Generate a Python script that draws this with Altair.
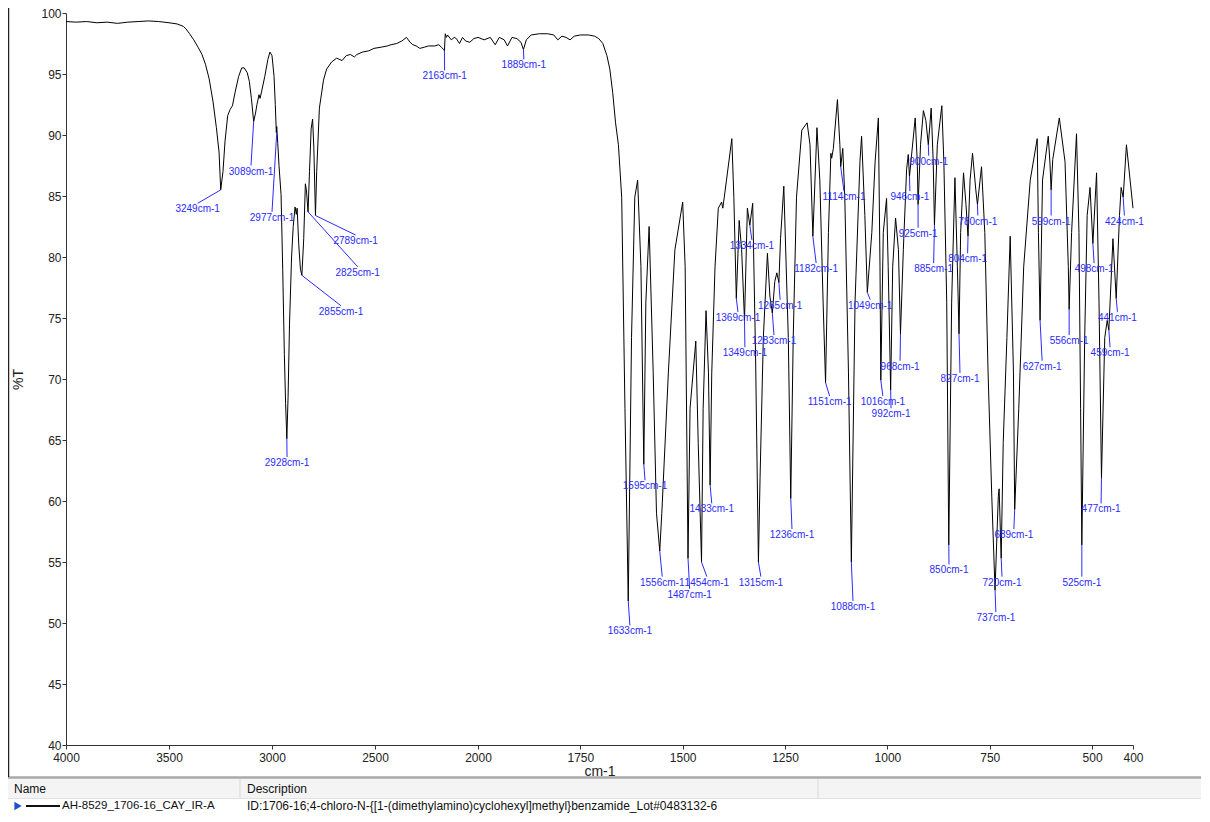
import altair as alt
import pandas as pd

# ---------------- spectrum (wavenumber cm-1, %T) ----------------
wavenumber = [
    4000, 3950, 3900, 3850, 3800, 3750, 3700, 3650, 3600, 3550, 3500, 3460, 3430, 3418, 3400,
    3380, 3359, 3340, 3323, 3305, 3286, 3270, 3257, 3249, 3238, 3228, 3215, 3203, 3192, 3178,
    3162, 3147, 3135, 3120, 3110, 3100, 3089, 3080, 3073, 3063, 3058, 3050, 3035, 3020, 3010,
    3000, 2990, 2984, 2979, 2977, 2972, 2966, 2956, 2948, 2940, 2934, 2928, 2922, 2915, 2905,
    2897, 2888, 2882, 2878, 2870, 2862, 2855, 2846, 2838, 2833, 2825, 2818, 2810, 2803, 2797,
    2789, 2783, 2770, 2750, 2735, 2710, 2686, 2660, 2640, 2620, 2600, 2588, 2560, 2530, 2505,
    2470, 2440, 2422, 2395, 2370, 2347, 2330, 2316, 2300, 2282, 2260, 2240, 2210, 2190, 2178,
    2166, 2163, 2159, 2153, 2148, 2130, 2115, 2105, 2090, 2075, 2060, 2040, 2020, 2000, 1985,
    1970, 1958, 1948, 1936, 1928, 1917, 1905, 1895, 1889, 1882, 1870, 1850, 1830, 1815, 1805,
    1795, 1785, 1775, 1765, 1750, 1730, 1715, 1705, 1695, 1685, 1678, 1671, 1664, 1657, 1649,
    1641, 1633, 1625, 1617, 1610, 1602, 1595, 1590, 1582, 1572, 1564, 1556, 1551, 1535, 1519,
    1500, 1494, 1487, 1482, 1468, 1462, 1454, 1450, 1443, 1437, 1433, 1429, 1421, 1413, 1405,
    1402, 1393, 1380, 1375, 1369, 1362, 1356, 1349, 1342, 1336, 1329, 1322, 1315, 1311, 1303,
    1293, 1287, 1281, 1275, 1270, 1265, 1261, 1253, 1242, 1236, 1230, 1222, 1209, 1196, 1189,
    1182, 1172, 1165, 1157, 1151, 1144, 1138, 1136, 1132, 1122, 1116, 1114, 1109, 1104, 1095,
    1088, 1079, 1067, 1063, 1055, 1049, 1038, 1030, 1022, 1018, 1016, 1010, 1002, 998, 992,
    987, 980, 973, 968, 961, 953, 949, 946, 932, 927, 925, 919, 912, 906, 900,
    893, 888, 885, 878, 867, 862, 855, 850, 843, 835, 829, 825, 821, 814, 808,
    803, 798, 792, 784, 780, 770, 762, 754, 745, 737, 729, 727, 722, 717, 708,
    700, 692, 689, 679, 667, 651, 634, 631, 627, 621, 607, 603, 600, 596, 580,
    566, 558, 556, 550, 538, 532, 528, 525, 518, 512, 505, 498, 489, 483, 477,
    469, 463, 459, 449, 441, 433, 429, 424, 416, 400,
]
transmittance = [
    99.3, 99.25, 99.3, 99.2, 99.25, 99.15, 99.25, 99.3, 99.35, 99.3, 99.2, 99.1, 98.9, 98.7, 98.3,
    97.8, 97.2, 96.6, 95.8, 94.6, 92.7, 90.6, 88.6, 85.5, 87.0, 89.5, 91.6, 92.1, 92.4, 93.6,
    94.8, 95.5, 95.5, 95.1, 94.4, 93.0, 91.1, 91.8, 92.5, 93.3, 93.0, 93.6, 94.8, 96.2, 96.8,
    96.5, 94.8, 92.5, 90.2, 90.7, 89.3, 87.5, 85.1, 79.0, 72.0, 68.0, 65.1, 68.5, 74.5, 80.0,
    82.5, 84.1, 83.5, 84.0, 81.0, 79.0, 78.5, 81.5, 86.0, 85.5, 83.7, 87.0, 90.5, 91.3, 89.0,
    83.4, 87.0, 92.2, 94.5, 95.4, 96.0, 96.3, 96.1, 96.5, 96.6, 96.4, 96.6, 96.8, 96.9, 97.1,
    97.2, 97.3, 97.4, 97.5, 97.7, 98.0, 97.6, 97.4, 97.3, 97.1, 97.2, 97.3, 97.3, 97.4, 97.2,
    97.0, 96.9, 98.3, 98.0, 98.2, 97.8, 98.0, 97.9, 97.5, 98.0, 97.7, 97.6, 97.9, 98.0, 97.8,
    98.0, 97.4, 98.0, 97.8, 97.3, 98.0, 97.9, 97.6, 97.0, 97.8, 98.2, 98.3, 98.3, 98.2, 97.8,
    98.1, 98.0, 97.8, 98.1, 98.2, 98.2, 98.1, 97.9, 97.5, 96.5, 95.4, 93.5, 91.0, 89.2, 84.9,
    67.6, 51.8, 73.4, 84.9, 86.3, 79.2, 63.0, 76.3, 82.5, 70.5, 59.0, 55.9, 59.0, 70.5, 80.6,
    84.5, 79.2, 55.3, 67.6, 73.1, 64.7, 55.0, 67.6, 75.6, 70.5, 61.3, 70.5, 79.2, 84.0, 84.5,
    84.0, 86.3, 89.7, 84.9, 76.6, 83.0, 80.6, 74.8, 84.0, 82.6, 84.4, 72.0, 55.0, 61.9, 73.4,
    80.3, 76.8, 75.4, 78.0, 78.7, 77.9, 81.5, 85.8, 73.4, 60.2, 73.4, 84.9, 90.4, 91.0, 89.2,
    81.7, 90.6, 86.3, 76.3, 69.7, 82.0, 88.5, 88.1, 88.9, 92.9, 89.2, 87.4, 88.9, 84.9, 70.5,
    55.0, 76.3, 87.8, 89.9, 83.4, 77.1, 82.0, 87.8, 91.4, 79.2, 69.9, 82.0, 84.8, 79.2, 69.1,
    79.2, 83.2, 80.6, 73.7, 80.6, 87.2, 88.4, 86.6, 91.4, 87.8, 84.3, 89.2, 92.0, 91.2, 89.2,
    92.2, 87.8, 82.6, 89.2, 92.4, 87.8, 76.3, 56.4, 76.3, 86.5, 79.2, 73.7, 82.0, 86.9, 84.3,
    81.7, 86.3, 88.5, 85.5, 84.3, 87.4, 82.0, 70.5, 60.4, 52.7, 60.4, 61.0, 55.3, 64.8, 73.4,
    81.7, 70.5, 59.3, 67.6, 79.2, 86.3, 89.7, 82.0, 74.8, 86.3, 89.9, 87.8, 85.5, 88.0, 91.4,
    87.8, 79.2, 75.7, 82.0, 90.1, 82.0, 67.6, 56.4, 73.4, 83.4, 85.7, 81.1, 86.9, 76.3, 61.9,
    73.4, 74.8, 74.0, 81.5, 76.6, 83.4, 85.7, 84.9, 89.2, 84.0,
]

# ---------------- peak annotations ----------------
peak_text = [
    "3249cm-1", "3089cm-1", "2977cm-1", "2928cm-1", "2855cm-1", "2825cm-1", "2789cm-1",
    "2163cm-1", "1889cm-1", "1633cm-1", "1595cm-1", "1556cm-1", "1487cm-1", "1454cm-1",
    "1433cm-1", "1369cm-1", "1349cm-1", "1334cm-1", "1315cm-1", "1265cm-1", "1283cm-1",
    "1236cm-1", "1182cm-1", "1151cm-1", "1114cm-1", "1088cm-1", "1049cm-1", "1016cm-1",
    "992cm-1", "968cm-1", "946cm-1", "925cm-1", "900cm-1", "885cm-1", "850cm-1", "827cm-1",
    "804cm-1", "780cm-1", "737cm-1", "720cm-1", "689cm-1", "627cm-1", "599cm-1", "556cm-1",
    "525cm-1", "498cm-1", "477cm-1", "459cm-1", "441cm-1", "424cm-1",
]
peak_wn = [
    3249, 3089, 2977, 2928, 2855, 2825, 2789, 2163, 1889, 1633, 1595, 1556, 1487, 1454,
    1433, 1369, 1349, 1336, 1315, 1265, 1281, 1236, 1182, 1151, 1114, 1088, 1049, 1016,
    992, 968, 946, 925, 900, 885, 850, 825, 803, 780, 737, 722, 689, 627, 600, 556,
    525, 498, 477, 459, 441, 424,
]
peak_T = [
    85.5, 91.1, 90.2, 65.1, 78.5, 83.7, 83.4, 96.9, 97.0, 51.8, 63.0, 55.9, 55.3, 55.0,
    61.3, 76.6, 74.8, 82.6, 55.0, 77.9, 75.4, 60.2, 81.7, 69.7, 87.4, 55.0, 77.1, 69.9,
    69.1, 73.7, 86.6, 84.3, 89.2, 82.6, 56.4, 73.7, 81.7, 84.3, 52.7, 55.3, 59.3, 74.8, 85.5, 75.7,
    56.4, 81.1, 61.9, 74.0, 76.6, 84.9,
]
label_wn = [
    3361, 3102, 3000, 2927, 2665, 2584, 2594, 2162, 1888, 1629, 1592, 1550, 1483, 1441,
    1429, 1365, 1348, 1331, 1309, 1262, 1277, 1233, 1174, 1141, 1106, 1084, 1042, 1011,
    991, 969, 945, 925, 899, 887, 849.5, 822.6, 804, 779, 735, 720, 691, 622, 600, 556,
    525, 495, 478, 456, 438, 421,
]
label_T = [
    84.4, 87.5, 83.7, 63.6, 76.0, 79.2, 81.8, 95.3, 96.2, 49.8, 61.7, 53.8, 52.8, 53.8,
    59.8, 75.5, 72.6, 81.4, 53.8, 76.5, 73.6, 57.7, 79.5, 68.6, 85.4, 51.8, 76.5, 68.6,
    67.6, 71.5, 85.4, 82.4, 88.3, 79.5, 54.8, 70.5, 80.3, 83.4, 50.9, 53.8, 57.7, 71.5, 83.4, 73.6,
    53.8, 79.5, 59.8, 72.6, 75.5, 83.4,
]

x_ticks = [4000, 3500, 3000, 2500, 2000, 1750, 1500, 1250, 1000, 750, 500, 400]
y_ticks = [40, 45, 50, 55, 60, 65, 70, 75, 80, 85, 90, 95, 100]

spec = pd.DataFrame({"wn": wavenumber, "T": transmittance})
peaks = pd.DataFrame({"text": peak_text, "wn": peak_wn, "T": peak_T,
                      "lwn": label_wn, "lT": label_T})

W, H = 1067, 732
FONT = "Liberation Sans"
BLUE = "#2a2aff"

xscale = alt.Scale(domain=[4000, 2000, 400], range=[0, 412, W], nice=False, zero=False)
yscale = alt.Scale(domain=[40, 100], nice=False, zero=False)

xaxis = alt.Axis(values=x_ticks, format="d", title="cm-1", grid=False, tickSize=4,
                 labelPadding=3, labelFontSize=12, labelFont=FONT, labelColor="#222",
                 titleFont=FONT, titleFontSize=14, titleFontWeight="normal",
                 titleColor="#222", titleY=30, titleBaseline="alphabetic",
                 domainColor="#333", tickColor="#333", labelFlush=False, labelOverlap=False)
yaxis = alt.Axis(values=y_ticks, format="d", title="%T", grid=False, tickSize=4,
                 labelPadding=1, labelFontSize=12, labelFont=FONT, labelColor="#222",
                 titleFont=FONT, titleFontSize=14, titleFontWeight="normal",
                 titleColor="#222", titleX=-48, titleY=H / 2, titleBaseline="middle",
                 domainColor="#333", tickColor="#333", labelFlush=False, labelOverlap=False)

line = alt.Chart(spec).mark_line(color="black", strokeWidth=1, interpolate="linear").encode(
    x=alt.X("wn:Q", scale=xscale, axis=xaxis),
    y=alt.Y("T:Q", scale=yscale, axis=yaxis),
    order="wn:Q",
)

leaders = alt.Chart(peaks).mark_rule(color=BLUE, strokeWidth=1).encode(
    x=alt.X("wn:Q", scale=xscale), y=alt.Y("T:Q", scale=yscale),
    x2="lwn:Q", y2="lT:Q",
)

labels = alt.Chart(peaks).mark_text(color=BLUE, font=FONT, fontSize=10,
                                    baseline="top", align="center", dy=1).encode(
    x=alt.X("lwn:Q", scale=xscale), y=alt.Y("lT:Q", scale=yscale), text="text:N",
)

# ---------------- bottom legend table (panel decoration) ----------------
one = pd.DataFrame({"k": [0]})
TFONT = "Liberation Sans"

def deco_rule(x1, x2, y1, y2, color, width):
    return alt.Chart(one).mark_rule(color=color, strokeWidth=width).encode(
        x=alt.value(x1), x2=alt.value(x2), y=alt.value(y1), y2=alt.value(y2))

def deco_text(txt, x, y, size=12, color="#111"):
    return alt.Chart(one).mark_text(text=txt, font=TFONT, fontSize=size, color=color,
                                    align="left", baseline="middle").encode(
        x=alt.value(x), y=alt.value(y))

header_bg = alt.Chart(one).mark_rect(color="#f4f4f4").encode(
    x=alt.value(-58), x2=alt.value(1135), y=alt.value(766), y2=alt.value(785))

table = [
    header_bg,
    deco_rule(-58, 1135, 764.5, 764.5, "#a8a8a8", 2.5),
    deco_rule(-58, 1135, 785.5, 785.5, "#e2e2e2", 1),
    deco_rule(174, 174, 766, 785, "#d8d8d8", 1),
    deco_rule(752, 752, 766, 785, "#d8d8d8", 1),
    deco_rule(-57.5, -57.5, -13, 764, "#222", 1.5),
    deco_text("Name", -52, 775.5),
    deco_text("Description", 181, 775.5),
    alt.Chart(one).mark_point(shape="triangle-right", filled=True, color="#1f4fcf",
                              size=70, opacity=1).encode(x=alt.value(-48), y=alt.value(793)),
    deco_rule(-40, -6, 793, 793, "#111", 2),
    deco_text("AH-8529_1706-16_CAY_IR-A", -4, 793, size=11.5),
    deco_text("ID:1706-16;4-chloro-N-{[1-(dimethylamino)cyclohexyl]methyl}benzamide_Lot#0483132-6",
              181, 793, size=12),
]

chart = alt.layer(line, leaders, labels, *table).properties(
    width=W, height=H,
    autosize=alt.AutoSizeParams(type="none"),
    padding={"left": 58, "top": 5, "right": 68, "bottom": 69},
    background="white",
).configure_view(stroke=None)

chart.save("out.html", embed_options={"renderer": "svg", "actions": False})
